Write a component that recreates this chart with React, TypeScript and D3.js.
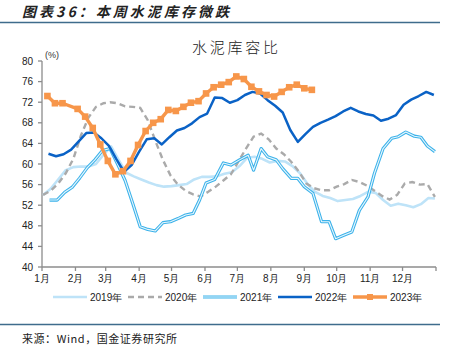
import React from "react";
import * as d3 from "d3";

const monthLabels = ["1月","2月","3月","4月","5月","6月","7月","8月","9月","10月","11月","12月"];
const yTicks = [40,44,48,52,56,60,64,68,72,76,80];

const dates2019 = ["01-02","01-09","01-16","01-23","01-30","02-06","02-13","02-20","02-27","03-06","03-13","03-20","03-27","04-03","04-10","04-17","04-24","05-01","05-08","05-15","05-22","05-29","06-05","06-12","06-19","06-26","07-03","07-10","07-17","07-24","07-31","08-07","08-14","08-21","08-28","09-04","09-11","09-18","09-25","10-02","10-09","10-16","10-23","10-30","11-06","11-13","11-20","11-27","12-04","12-11","12-18","12-25","12-31"];
const values2019 = [54.0,55.2,57.0,58.8,59.4,59.5,59.5,60.0,61.8,63.4,60.8,58.3,57.6,57.0,56.4,55.9,55.6,55.7,55.9,56.1,57.0,57.5,57.5,57.6,58.1,58.4,59.6,61.2,61.4,61.0,60.3,60.6,60.5,59.6,58.2,56.1,54.6,53.8,53.4,52.8,53.0,53.2,53.8,54.6,54.4,53.0,51.9,52.3,52.0,51.6,52.2,53.4,53.3];

const dates2020 = ["01-02","01-09","01-16","01-23","01-30","02-06","02-13","02-20","02-27","03-05","03-12","03-19","03-26","04-02","04-09","04-16","04-23","04-30","05-07","05-14","05-21","05-28","06-04","06-11","06-18","06-25","07-02","07-09","07-16","07-23","07-30","08-06","08-13","08-20","08-27","09-03","09-10","09-17","09-24","10-01","10-08","10-15","10-22","10-29","11-05","11-12","11-19","11-26","12-03","12-10","12-17","12-24","12-31"];
const values2020 = [54.0,54.8,56.2,58.2,61.0,65.5,69.0,71.1,71.8,72.0,71.8,71.2,71.1,70.9,68.5,64.5,60.8,57.8,56.0,54.8,54.1,53.7,54.6,55.6,56.8,58.0,60.5,63.0,65.3,65.9,64.8,63.0,61.9,60.4,58.5,56.2,55.3,54.9,54.9,55.6,56.1,56.9,56.5,55.8,54.8,53.8,53.1,54.0,56.2,56.5,56.0,56.1,53.6];

const dates2021 = ["01-08","01-15","01-22","01-29","02-05","02-12","02-19","02-26","03-05","03-12","03-19","03-26","04-02","04-09","04-16","04-23","04-30","05-07","05-14","05-21","05-27","06-02","06-10","06-18","06-25","07-03","07-11","07-16","07-23","07-29","08-06","08-12","08-20","08-26","09-01","09-09","09-17","09-24","09-30","10-07","10-15","10-22","10-30","11-05","11-13","11-21","11-27","12-04","12-12","12-18","12-24","12-31"];
const values2021 = [53.0,53.0,54.5,55.5,57.3,59.3,60.8,62.6,63.0,60.0,56.8,52.4,47.8,47.3,47.0,48.6,48.8,49.4,50.1,50.4,53.0,56.3,57.0,60.2,59.8,60.8,61.7,58.8,63.0,61.4,60.8,59.1,57.2,57.2,55.6,54.3,48.8,48.8,45.5,46.1,46.8,51.0,53.6,58.2,63.0,65.0,65.3,66.2,65.4,65.2,63.5,62.4];

const dates2022 = ["01-07","01-14","01-21","01-28","02-04","02-11","02-18","02-25","03-04","03-11","03-18","03-25","04-01","04-08","04-15","04-22","04-29","05-06","05-13","05-20","05-27","06-03","06-10","06-17","06-24","07-01","07-08","07-15","07-22","07-29","08-05","08-12","08-19","08-26","09-02","09-09","09-16","09-23","09-30","10-07","10-14","10-21","10-28","11-04","11-11","11-18","11-25","12-02","12-09","12-16","12-23","12-30"];
const values2022 = [62.0,61.5,61.9,62.8,64.4,66.0,66.1,65.0,63.5,60.9,58.5,59.8,62.4,64.8,65.0,63.8,65.2,66.5,67.0,67.9,69.1,69.8,72.9,72.8,71.9,72.4,73.4,74.0,73.7,72.4,71.3,70.0,66.6,64.3,65.8,67.2,68.0,68.6,69.3,70.2,70.9,70.2,69.7,69.4,68.4,68.8,69.5,71.5,72.5,73.2,74.0,73.4];

const dates2023 = ["01-06","01-13","01-20","02-03","02-10","02-17","02-24","03-03","03-10","03-17","03-24","03-31","04-07","04-14","04-21","04-28","05-05","05-12","05-19","05-26","06-02","06-09","06-16","06-23","06-30","07-07","07-14","07-21","07-28","08-04","08-11","08-18","08-25","09-01","09-08"];
const values2023 = [73.2,71.8,71.8,70.7,69.2,67.0,63.8,60.6,58.0,58.6,60.6,63.7,66.4,68.0,68.7,70.5,70.3,71.1,71.9,72.2,73.7,74.9,75.4,75.9,77.0,76.5,75.0,74.1,73.4,73.1,74.0,74.9,75.4,74.7,74.4];

const seriesNames = ["2019年","2020年","2021年","2022年","2023年"];

const parse = d3.timeParse("%Y-%m-%d");
const toPts = (ds: string[], vs: number[]) => ds.map((d, i) => ({ date: parse("2023-" + d) as Date, v: vs[i] }));

const W = 459, H = 355;
const plotL = 42, plotR = 436, plotT = 61, plotB = 267;

export default function App() {
  const x = d3.scaleTime().domain([new Date(2023, 0, 1), new Date(2024, 0, 1)]).range([plotL, plotR]);
  const y = d3.scaleLinear().domain([40, 80]).range([plotB, plotT]);
  const line = d3.line<{ date: Date; v: number }>().x(d => x(d.date)).y(d => y(d.v));

  const s2019 = toPts(dates2019, values2019);
  const s2020 = toPts(dates2020, values2020);
  const s2021 = toPts(dates2021, values2021);
  const s2022 = toPts(dates2022, values2022);
  const s2023 = toPts(dates2023, values2023);

  const monthTicks = d3.timeMonth.range(new Date(2023, 0, 1), new Date(2024, 0, 2));

  const c2019 = "#BEE3F8", c2020 = "#AAAAAA", c2021 = "#3BB2EA", c2021in = "#EAF7FD", c2022 = "#0A62C6", c2023 = "#F7964A";
  const font = "'Liberation Sans', Arial, sans-serif";
  const cjk = "'Noto Sans CJK SC', sans-serif";
  const legendX = [53, 128, 203, 278, 353];
  const legendY = 297;

  return (
    <svg width={W} height={H} style={{ position: "absolute", left: 0, top: 0, background: "#fff" }}>
      <rect x={0} y={0} width={W} height={H} fill="#fff" />
      <text x={22} y={17} fontFamily={cjk} fontSize={14} fontWeight="bold" fontStyle="italic" fill="#222" textLength={207} lengthAdjust="spacing">图表36：本周水泥库存微跌</text>
      <line x1={0} x2={440} y1={22.5} y2={22.5} stroke="#3F6C8C" strokeWidth={1.5} />

      <text x={192} y={53} fontFamily={cjk} fontSize={15} fontWeight={300} fill="#222" textLength={86} lengthAdjust="spacing">水泥库容比</text>
      <text x={45} y={58} fontFamily={font} fontSize={9} fill="#333">(%)</text>

      {/* y axis */}
      <line x1={plotL} x2={plotL} y1={plotT} y2={plotB} stroke="#8C8C8C" strokeWidth={1.3} />
      {yTicks.map(t => (
        <g key={t}>
          <line x1={plotL - 4} x2={plotL} y1={y(t)} y2={y(t)} stroke="#8C8C8C" strokeWidth={1.3} />
          <text x={plotL - 9} y={y(t) + 3.5} textAnchor="end" fontFamily={font} fontSize={10} fill="#222">{t}</text>
        </g>
      ))}
      {/* x axis */}
      <line x1={plotL} x2={plotR} y1={plotB} y2={plotB} stroke="#8C8C8C" strokeWidth={1.3} />
      {monthTicks.map((m, i) => (
        <g key={i}>
          <line x1={x(m)} x2={x(m)} y1={plotB} y2={plotB + 4} stroke="#8C8C8C" strokeWidth={1.3} />
          {i < 12 && (
            <text x={x(m)} y={plotB + 15} textAnchor="middle" fontFamily={font} fontSize={10} fill="#222">{monthLabels[i]}</text>
          )}
        </g>
      ))}

      {/* series */}
      <path d={line(s2019) || ""} fill="none" stroke={c2019} strokeWidth={2.6} strokeLinejoin="round" />
      <path d={line(s2020) || ""} fill="none" stroke={c2020} strokeWidth={2.4} strokeDasharray="6,4" />
      <path d={line(s2021) || ""} fill="none" stroke={c2021} strokeWidth={3.2} strokeLinejoin="round" />
      <path d={line(s2021) || ""} fill="none" stroke={c2021in} strokeWidth={1.1} strokeLinejoin="round" />
      <path d={line(s2022) || ""} fill="none" stroke={c2022} strokeWidth={2.5} strokeLinejoin="round" />
      <path d={line(s2023) || ""} fill="none" stroke={c2023} strokeWidth={3.4} strokeLinejoin="round" />
      {s2023.map((d, i) => (
        <rect key={i} x={x(d.date) - 3.3} y={y(d.v) - 3.3} width={6.6} height={6.6} fill={c2023} />
      ))}

      {/* legend */}
      <line x1={legendX[0]} x2={legendX[0] + 34} y1={legendY} y2={legendY} stroke={c2019} strokeWidth={2.6} />
      <line x1={legendX[1]} x2={legendX[1] + 34} y1={legendY} y2={legendY} stroke={c2020} strokeWidth={2.4} strokeDasharray="6,4" />
      <line x1={legendX[2]} x2={legendX[2] + 34} y1={legendY} y2={legendY} stroke={c2021} strokeWidth={3.2} />
      <line x1={legendX[2]} x2={legendX[2] + 34} y1={legendY} y2={legendY} stroke={c2021in} strokeWidth={1.1} />
      <line x1={legendX[3]} x2={legendX[3] + 34} y1={legendY} y2={legendY} stroke={c2022} strokeWidth={2.5} />
      <line x1={legendX[4]} x2={legendX[4] + 34} y1={legendY} y2={legendY} stroke={c2023} strokeWidth={3.4} />
      <rect x={legendX[4] + 17 - 3} y={legendY - 3} width={6} height={6} fill={c2023} />
      {seriesNames.map((n, i) => (
        <text key={n} x={legendX[i] + 37} y={legendY + 3.5} fontFamily={font} fontSize={10} fill="#222">{n}</text>
      ))}

      <line x1={0} x2={440} y1={324.5} y2={324.5} stroke="#3F6C8C" strokeWidth={1.5} />
      <text x={22} y={343} fontFamily={cjk} fontSize={11} fill="#222" textLength={155} lengthAdjust="spacing">来源：Wind，国金证券研究所</text>
    </svg>
  );
}
